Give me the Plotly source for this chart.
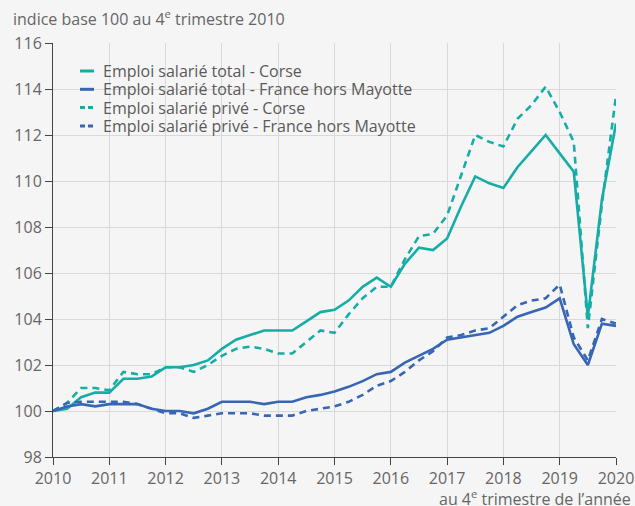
import plotly.graph_objects as go

# quarters from Q4 2010 (k=0) to Q4 2020 (k=40); tick N = 4th quarter of year N
quarter_index = list(range(41))
x_years = [2010 + k / 4 for k in quarter_index]

corse_total = [100.0, 100.1, 100.6, 100.8, 100.8, 101.4, 101.4, 101.5, 101.9, 101.9,
               102.0, 102.2, 102.7, 103.1, 103.3, 103.5, 103.5, 103.5, 103.9, 104.3,
               104.4, 104.8, 105.4, 105.8, 105.4, 106.4, 107.1, 107.0, 107.5, 108.9,
               110.2, 109.9, 109.7, 110.6, 111.3, 112.0, 111.2, 110.4, 104.1, 109.2,
               112.5]
france_total = [100.0, 100.2, 100.3, 100.2, 100.3, 100.3, 100.3, 100.1, 100.0, 100.0,
                99.9, 100.1, 100.4, 100.4, 100.4, 100.3, 100.4, 100.4, 100.6, 100.7,
                100.85, 101.05, 101.3, 101.6, 101.7, 102.1, 102.4, 102.7, 103.1, 103.2,
                103.3, 103.4, 103.7, 104.1, 104.3, 104.5, 104.9, 102.9, 102.0, 103.8,
                103.7]
corse_prive = [100.0, 100.35, 101.0, 101.0, 100.9, 101.7, 101.6, 101.6, 101.9, 101.9,
               101.7, 102.0, 102.4, 102.7, 102.8, 102.7, 102.5, 102.5, 103.0, 103.5,
               103.4, 104.2, 104.9, 105.4, 105.4, 106.6, 107.6, 107.7, 108.5, 110.3,
               112.0, 111.7, 111.5, 112.7, 113.3, 114.1, 113.0, 111.7, 103.6, 109.0,
               113.7]
france_prive = [100.0, 100.35, 100.4, 100.4, 100.4, 100.4, 100.3, 100.1, 99.9, 99.9,
                99.7, 99.8, 99.9, 99.9, 99.9, 99.8, 99.8, 99.8, 100.0, 100.1,
                100.2, 100.4, 100.7, 101.1, 101.3, 101.7, 102.2, 102.6, 103.2, 103.3,
                103.5, 103.6, 104.1, 104.6, 104.8, 104.9, 105.5, 103.2, 102.2, 104.0,
                103.8]

series_names = ["Emploi salarié total - Corse",
                "Emploi salarié total - France hors Mayotte",
                "Emploi salarié privé - Corse",
                "Emploi salarié privé - France hors Mayotte"]
x_ticks = list(range(2010, 2021))
y_ticks = list(range(98, 117, 2))

TEAL = "#17ADA7"
BLUE = "#3766B4"
BG = "#F5F5F5"
FONT = "Open Sans"
TXT = "#666666"

W, H = 635, 506
ML, MR, MT, MB = 53, 19, 43, 49
PW, PH = W - ML - MR, H - MT - MB


def px_to_paper(px, py):
    return (px - ML) / PW, (H - MB - py) / PH


fig = go.Figure()
specs = [(corse_total, TEAL, "solid"), (france_total, BLUE, "solid"),
         (corse_prive, TEAL, "7px,5px"), (france_prive, BLUE, "7px,5px")]
for name, (vals, col, dash) in zip(series_names, specs):
    fig.add_trace(go.Scatter(x=x_years, y=vals, mode="lines", name=name,
                             line=dict(color=col, width=2.6, dash=dash),
                             showlegend=False))

# manual legend (compact, like the reference)
shapes = []
annotations = []
legend_rows = [71, 89.3, 107.6, 125.9]
legend_dash = ["solid", "solid", "5px,3px", "5px,3px"]
for name, (vals, col, _), row_y, ldash in zip(series_names, specs, legend_rows, legend_dash):
    x0, y0 = px_to_paper(80, row_y)
    x1, _ = px_to_paper(94, row_y)
    shapes.append(dict(type="line", xref="paper", yref="paper", x0=x0, x1=x1, y0=y0, y1=y0,
                       line=dict(color=col, width=3, dash=ldash)))
    tx, ty = px_to_paper(101, row_y)
    annotations.append(dict(text=name, xref="paper", yref="paper", x=tx, y=ty,
                            xanchor="left", yanchor="middle", showarrow=False,
                            font=dict(size=16, color="#5a5a5a")))

annotations += [
    dict(text="indice base 100 au 4<sup>e</sup> trimestre 2010", xref="paper", yref="paper",
         x=0, y=1, xanchor="left", yanchor="bottom", xshift=-42, yshift=11,
         showarrow=False, font=dict(size=16, color=TXT)),
    dict(text="au 4<sup>e</sup> trimestre de l’année", xref="paper", yref="paper",
         x=1, y=0, xanchor="right", yanchor="top", xshift=17, yshift=-27,
         showarrow=False, font=dict(size=16, color=TXT)),
]

axis_common = dict(showgrid=True, gridcolor="#D9D9D9", gridwidth=1,
                   showline=True, linecolor="#444444", linewidth=1,
                   ticks="outside", ticklen=7, tickcolor="#444444",
                   zeroline=False, automargin=False,
                   tickfont=dict(size=16, color=TXT, family=FONT))

fig.update_layout(
    width=W, height=H,
    paper_bgcolor=BG, plot_bgcolor=BG,
    margin=dict(l=ML, r=MR, t=MT, b=MB, autoexpand=False),
    font=dict(family=FONT, size=16, color=TXT),
    showlegend=False,
    xaxis=dict(range=[2010, 2020], tickvals=x_ticks, ticktext=[str(v) for v in x_ticks],
               **axis_common),
    yaxis=dict(range=[98, 116], tickvals=y_ticks, **axis_common),
    shapes=shapes,
    annotations=annotations,
)

fig.write_html("out.html",
               config={"displayModeBar": False},
               post_script="document.body.style.margin='0';document.body.style.overflow='hidden';")
